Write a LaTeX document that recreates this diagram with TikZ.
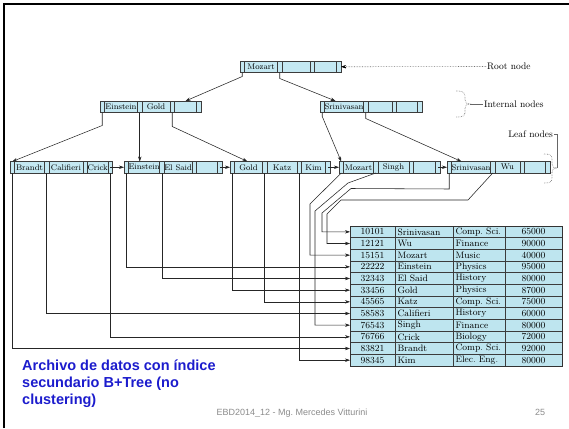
\documentclass[tikz,border=0pt]{standalone}
\usepackage{fontspec}
\newfontfamily\arialf{Liberation Sans}
\usetikzlibrary{arrows.meta,calc}
\pgfdeclarelayer{background}
\pgfsetlayers{background,main}
\frenchspacing
\definecolor{cellblue}{RGB}{196,232,242}
\definecolor{tblblue}{RGB}{190,229,239}
\definecolor{capblue}{RGB}{28,28,205}
\definecolor{footgray}{RGB}{140,140,140}
\definecolor{linegray}{RGB}{60,60,60}
\tikzset{
 pcell/.style={draw=linegray, fill=cellblue, line width=0.5, minimum width=4.5, minimum height=11.5, inner sep=0, outer sep=0},
 kcell/.style={pcell, font=\fontsize{8.2}{9}\selectfont},
 tcell/.style={draw=linegray, fill=tblblue, line width=0.5, minimum height=11.667, inner ysep=0, inner xsep=3, outer sep=0, font=\fontsize{9.3}{10}\selectfont},
 conn/.style={draw=black!85, line width=0.55},
 arr/.style={conn, -{Stealth[length=5pt,width=3.4pt]}},
 lbl/.style={font=\fontsize{9.5}{11}\selectfont, inner sep=1},
 brc/.style={draw=black!55, densely dotted, line width=0.6},
 lblline/.style={draw=black!60, line width=0.5},
}
\newcommand{\bpnode}[9]{%
 \node[pcell, anchor=north west] (#1-p1) at (#2,#3) {};
 \node[kcell, minimum width=#4, anchor=north west] (#1-k1) at (#1-p1.north east) {#7};
 \node[pcell, anchor=north west] (#1-p2) at (#1-k1.north east) {};
 \node[kcell, minimum width=#5, anchor=north west] (#1-k2) at (#1-p2.north east) {#8};
 \node[pcell, anchor=north west] (#1-p3) at (#1-k2.north east) {};
 \node[kcell, minimum width=#6, anchor=north west] (#1-k3) at (#1-p3.north east) {#9};
 \node[pcell, anchor=north west] (#1-p4) at (#1-k3.north east) {};
}
\begin{document}
\begin{tikzpicture}[x=1pt,y=-1pt]
\useasboundingbox (0,0) rectangle (569,428);
\fill[white] (0,0) rectangle (569,428);
% slide border
\draw[line width=2.6, black, line join=miter] (4,428) -- (4,4) -- (569,4);

% tree nodes
\bpnode{root}{240}{61}{33}{28}{22}{Mozart}{}{}
\bpnode{lint}{100}{101}{33}{28}{22}{Einstein}{Gold}{}
\bpnode{rint}{320}{101}{39}{24}{21}{Srinivasan}{}{}
\bpnode{leafa}{10}{161.5}{30}{34}{20}{Brandt}{Califieri}{Crick}
\bpnode{leafb}{124}{161.5}{31}{28}{21}{Einstein}{El Said}{}
\bpnode{leafc}{230}{161.5}{28}{30}{24}{Gold}{Katz}{Kim}
\bpnode{leafd}{339}{161.5}{30}{31}{22}{Mozart}{Singh}{}
\bpnode{leafe}{447}{161.5}{39}{25}{21}{Srinivasan}{Wu}{}

% table
\begin{pgfonlayer}{background}
\fill[black!35] (352.5,228.5) rectangle (564.5,368.5);
\end{pgfonlayer}
\foreach \i/\a/\b/\c/\d in {1/10101/Srinivasan/Comp. Sci./65000,
 2/12121/Wu/Finance/90000, 3/15151/Mozart/Music/40000,
 4/22222/Einstein/Physics/95000, 5/32343/El Said/History/80000,
 6/33456/Gold/Physics/87000, 7/45565/Katz/Comp. Sci./75000,
 8/58583/Califieri/History/60000, 9/76543/Singh/Finance/80000,
 10/76766/Crick/Biology/72000, 11/83821/Brandt/Comp. Sci./92000,
 12/98345/Kim/Elec. Eng./80000}{
 \node[tcell, minimum width=45, anchor=north west] (tr\i) at (350,{226+(\i-1)*11.667}) {\a};
 \node[tcell, inner xsep=2.5, text width=53, align=left, anchor=north west] (tb\i) at (tr\i.north east) {\mbox{\b}};
 \node[tcell, inner xsep=2.5, text width=47, align=left, anchor=north west] (tc\i) at (tb\i.north east) {\mbox{\c}};
 \node[tcell, minimum width=57, anchor=north west] (td\i) at (tc\i.north east) {\d};
}
\draw[black!80, line width=0.9] (tr1.north west) rectangle (td12.south east);

% root connectors
\draw[arr] (root-p1.south) -- ++(0,4) -- (lint-k3.north);
\draw[arr] (root-p2.south) -- ++(0,6) -- ($(rint-k1.north west)+(11,0)$);
% internal connectors
\draw[arr] (lint-p1.south) -- ++(0,13) -- (leafa-p1.north);
\draw[arr] (lint-p2.south) -- (lint-p2.south |- leafb-k1.north);
\draw[arr] (lint-p3.south) -- ++(0,14) -- ($(leafc-k1.north west)+(13,0)$);
\draw[arr] (rint-p1.south) -- ++(0,4) -- (leafd-p1.north);
\draw[arr] (rint-p2.south) -- ++(0,6) -- ($(leafe-k1.north west)+(10,0)$);
% leaf chain
\draw[arr] (leafa-p4.center) -- (leafb-p1.west);
\draw[arr] (leafb-p4.center) -- (leafc-p1.west);
\draw[arr] (leafc-p4.center) -- (leafd-p1.west);
\draw[arr] (leafd-p4.center) -- (leafe-p1.west);

% leaf to records
\draw[arr] (leafa-p1.south) |- (tr11.west);
\draw[arr] (leafa-p2.south) |- (tr8.west);
\draw[arr] (leafa-p4.south) |- (tr10.west);
\draw[arr] (leafb-p1.south) |- (tr4.west);
\draw[arr] (leafb-p2.south) |- (tr5.west);
\draw[arr] (leafc-p1.south) |- (tr6.west);
\draw[arr] (leafc-p2.south) |- (tr7.west);
\draw[arr] (leafc-p3.south) |- (tr12.west);
\draw[arr] (leafd-p1.south) -- (310,204) |- (tr3.west);
\draw[arr] (leafd-p2.south) -- (348,183) -- (315,211) |- (tr9.west);
\draw[arr] (leafe-p1.south) -- ++(0,16) -- (351,188.5) -- (322,213) |- (tr1.west);
\draw[arr] (leafe-p2.south) -- (468,200) -- (341,200) -- (327,214) |- (tr2.west);

% labels
\node[lbl, anchor=west] (rootlbl) at (486,66.5) {Root node};
\draw[draw=black!55, densely dotted, line width=0.6] (rootlbl.west) -- ($(root-p4.east)+(4,0)$);
\draw[draw=black, line width=0.5, -{Stealth[length=5pt,width=3.4pt]}] ($(root-p4.east)+(5,0)$) -- (root-p4.east);

\draw[brc] (456,91) .. controls (463,91) and (465,92) .. (465,97) -- (465,100) .. controls (465,103) and (467,104) .. (470,104) .. controls (467,104) and (465,105) .. (465,108) -- (465,112) .. controls (465,116) and (463,117) .. (456,117);
\coordinate (inttip) at (470,104);
\node[lbl, anchor=west] (intlbl) at (483,104) {Internal nodes};
\draw[lblline] (inttip) -- (intlbl.west);

\draw[brc] (544,154) .. controls (550,154) and (552,155) .. (552,159) -- (552,164) .. controls (552,167) and (554,168) .. (557,168) .. controls (554,168) and (552,169) .. (552,172) -- (552,178) .. controls (552,182) and (550,183) .. (544,183);
\coordinate (leaftip) at (557,168);
\node[lbl, anchor=east] (leaflbl) at (554,134) {Leaf nodes};
\draw[lblline] (leaftip) |- (leaflbl.east);

% caption and footer
\node[font=\arialf\bfseries\fontsize{14.5}{17}\selectfont, text=capblue, align=left, anchor=north west, inner sep=0] (cap) at (22,360) {Archivo de datos con índice\\secundario B+Tree (no\\clustering)};
\node[font=\arialf\fontsize{9}{10}\selectfont, text=footgray, anchor=base, inner sep=0] (foot) at (292,415) {EBD2014\_12 - Mg. Mercedes Vitturini};
\node[font=\arialf\fontsize{9}{10}\selectfont, text=footgray, anchor=base, inner sep=0] (pnum) at (540,415) {25};
\end{tikzpicture}
\end{document}
